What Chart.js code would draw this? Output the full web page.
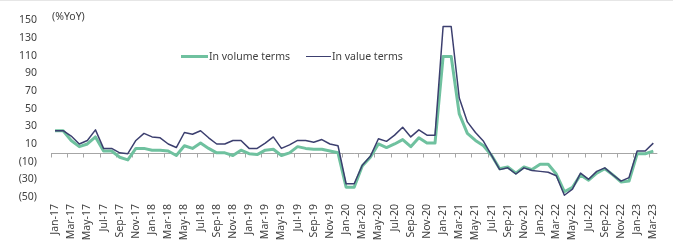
<!DOCTYPE html>
<html>
<head>
<meta charset="utf-8">
<script src="https://cdn.jsdelivr.net/npm/chart.js@4.4.0/dist/chart.umd.min.js"></script>
<style>
  body { margin: 0; background: #fff; }
  #cadre { position: relative; width: 673px; height: 241px; font-family: "Noto Sans", sans-serif; color: #404040; font-size: 10.5px; border-top: 1px solid #e6e6e6; box-sizing: border-box; }
  #cadre canvas { position: absolute; left: 0; top: -1px; }
  .txt { position: absolute; line-height: 14px; white-space: nowrap; }
  .trait { position: absolute; height: 0; }
</style>
</head>
<body>
<div id="cadre">
  <canvas id="graphe" width="673" height="241"></canvas>
  <div class="txt" style="left:52px; top:8px;">(%YoY)</div>
  <div class="trait" style="left:181px; top:54px; width:27px; border-top:3px solid #6fc19f;"></div>
  <div class="txt" style="left:209px; top:48px;">In volume terms</div>
  <div class="trait" style="left:306px; top:55px; width:25px; border-top:1.5px solid #3c3f6f;"></div>
  <div class="txt" style="left:332px; top:48px;">In value terms</div>
</div>
<script>
// ==========================
// Données : variation annuelle (%) mois par mois, jan. 2017 -> mars 2023
// ==========================
const mois = [
  "Jan-17", "Feb-17", "Mar-17", "Apr-17", "May-17", "Jun-17", "Jul-17", "Aug-17", "Sep-17", "Oct-17", "Nov-17", "Dec-17",
  "Jan-18", "Feb-18", "Mar-18", "Apr-18", "May-18", "Jun-18", "Jul-18", "Aug-18", "Sep-18", "Oct-18", "Nov-18", "Dec-18",
  "Jan-19", "Feb-19", "Mar-19", "Apr-19", "May-19", "Jun-19", "Jul-19", "Aug-19", "Sep-19", "Oct-19", "Nov-19", "Dec-19",
  "Jan-20", "Feb-20", "Mar-20", "Apr-20", "May-20", "Jun-20", "Jul-20", "Aug-20", "Sep-20", "Oct-20", "Nov-20", "Dec-20",
  "Jan-21", "Feb-21", "Mar-21", "Apr-21", "May-21", "Jun-21", "Jul-21", "Aug-21", "Sep-21", "Oct-21", "Nov-21", "Dec-21",
  "Jan-22", "Feb-22", "Mar-22", "Apr-22", "May-22", "Jun-22", "Jul-22", "Aug-22", "Sep-22", "Oct-22", "Nov-22", "Dec-22",
  "Jan-23", "Feb-23", "Mar-23"
];

// en volume (ligne verte épaisse)
const enVolume = [
  25, 25, 14, 7, 10, 18, 2, 2, -5, -8, 5, 5,
  3, 3, 2, -3, 8, 5, 11, 5, 0, 0, -3, 3,
  -1, -2, 3, 4, -3, 0, 7, 5, 4, 4, 2, 0,
  -39, -39, -15, -5, 10, 6, 10, 15, 7, 17, 11, 11,
  109, 109, 44, 22, 14, 8, -3, -18, -16, -23, -16, -19,
  -13, -13, -24, -44, -39, -25, -31, -23, -18, -25, -33, -32,
  -1, -1, 2
];

// en valeur (ligne bleu nuit fine)
const enValeur = [
  25, 25, 19, 10, 14, 26, 5, 5, 0, -1, 14, 22,
  18, 17, 10, 6, 23, 21, 25, 17, 10, 10, 14, 14,
  5, 5, 11, 18, 5, 9, 14, 14, 12, 15, 10, 8,
  -35, -35, -14, -4, 16, 13, 20, 29, 18, 26, 20, 20,
  143, 143, 62, 35, 23, 13, -3, -19, -17, -24, -17, -20,
  -21, -22, -26, -48, -41, -23, -30, -21, -17, -25, -32, -28,
  2, 2, 11
];

// axe Y : de (50) à 150, pas de 20
const yMin = -50;
const yMax = 150;
const yPas = 20;

const police = { family: "'Noto Sans', sans-serif", size: 10.5 };
const gris = "#404040";

// ==========================
// Ligne du zéro + petites graduations (1 mois sur 2)
// ==========================
const axeZero = {
  id: "axeZero",
  beforeDatasetsDraw(chart) {
    const { ctx, chartArea, scales: { x, y } } = chart;
    const y0 = Math.round(y.getPixelForValue(0)) + 0.5;
    const pas = x.getPixelForValue(1) - x.getPixelForValue(0);
    ctx.save();
    ctx.strokeStyle = "#a6a6a6";
    ctx.lineWidth = 1;
    ctx.beginPath();
    ctx.moveTo(chartArea.left, y0);
    ctx.lineTo(chartArea.right, y0);
    for (let i = 0; i < mois.length; i += 2) {
      const px = Math.round(x.getPixelForValue(i) - pas / 2) + 0.5;
      ctx.moveTo(px, y0);
      ctx.lineTo(px, y0 + 4);
    }
    ctx.stroke();
    ctx.restore();
  }
};

new Chart(document.getElementById("graphe"), {
  type: "line",
  data: {
    labels: mois,
    datasets: [
      {
        label: "In value terms",
        data: enValeur,
        borderColor: "#3c3f6f",
        borderWidth: 1.5,
        order: 0
      },
      {
        label: "In volume terms",
        data: enVolume,
        borderColor: "#6fc19f",
        borderWidth: 3,
        order: 1
      }
    ]
  },
  options: {
    responsive: false,
    animation: false,
    devicePixelRatio: 1,
    layout: { padding: { top: 17, right: 14, left: 0, bottom: 0 } },
    elements: {
      point: { radius: 0 },
      line: { tension: 0, borderJoinStyle: "round", fill: false }
    },
    plugins: { legend: { display: false }, tooltip: { enabled: false } },
    scales: {
      x: {
        offset: true,
        grid: { display: false, drawTicks: false },
        border: { display: false },
        ticks: {
          autoSkip: false,
          minRotation: 90,
          maxRotation: 90,
          padding: 7,
          font: police,
          color: gris,
          callback: (v, i) => (i % 2 === 0 ? mois[i] : "")
        },
        afterFit: s => { s.height = 44; }
      },
      y: {
        min: yMin,
        max: yMax,
        grid: { display: false, drawTicks: false },
        border: { display: false },
        ticks: {
          stepSize: yPas,
          padding: 14,
          font: police,
          color: gris,
          callback: v => (v < 0 ? "(" + (-v) + ")" : v)
        },
        afterFit: s => { s.width = 51; }
      }
    }
  },
  plugins: [axeZero]
});
</script>
</body>
</html>
